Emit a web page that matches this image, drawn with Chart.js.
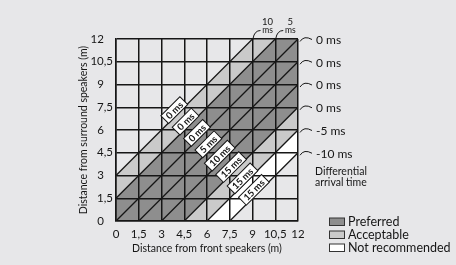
<!DOCTYPE html>
<html><head><meta charset="utf-8">
<script src="https://cdn.jsdelivr.net/npm/chart.js@4/dist/chart.umd.min.js"></script>
<style>html,body{margin:0;padding:0;background:#e7e7e9;}canvas{display:block;}</style>
</head><body>
<canvas id="c" width="456" height="265"></canvas>
<script>
// ---- data ----
const tickValues = [0, 1.5, 3, 4.5, 6, 7.5, 9, 10.5, 12];
const tickLabels = ['0', '1,5', '3', '4,5', '6', '7,5', '9', '10,5', '12'];
const xTitle = 'Distance from front speakers (m)';
const yTitle = 'Distance from surround speakers (m)';
const bandNames = ['Preferred', 'Acceptable', 'Not recommended'];
const bandColors = ['#8e8e8e', '#cacaca', '#ffffff'];
// bands between lines y = x + offset (metres)
const bandLow = [-4.5, 1.5, -6, -7.5];
const bandHigh = [1.5, 3, -4.5, -6];
const bandType = [0, 1, 1, 2];
// diagonal lines y = x + offset
const diagOffsets = [3, 1.5, 0, -1.5, -3, -4.5, -6, -7.5];
const edgeLabels = ['10 ms', '5 ms', '0 ms', '0 ms', '0 ms', '0 ms', '-5 ms', '-10 ms'];
const boxLabels = ['0 ms', '0 ms', '0 ms', '5 ms', '10 ms', '15 ms', '15 ms', '15 ms'];
const boxSum = 11.15;
const noteLines = ['Differential', 'arrival time'];

const INK = '#161616';
const FONT = 'Lato, "Open Sans", sans-serif';

const datasets = [];
diagOffsets.forEach(c => datasets.push({
  data: [{x: 0, y: c}, {x: 12, y: 12 + c}],
  borderColor: INK, borderWidth: 1.3, pointRadius: 0, fill: false, clip: 0
}));
bandLow.forEach((lo, i) => {
  const base = datasets.length;
  datasets.push({data: [{x: 0, y: lo}, {x: 12, y: 12 + lo}], borderColor: 'rgba(0,0,0,0)', borderWidth: 0, pointRadius: 0, fill: false, clip: 0});
  datasets.push({data: [{x: 0, y: bandHigh[i]}, {x: 12, y: 12 + bandHigh[i]}], borderColor: 'rgba(0,0,0,0)', borderWidth: 0, pointRadius: 0,
    fill: {target: base}, backgroundColor: bandColors[bandType[i]], clip: 0});
});

const overlay = {
  id: 'overlay',
  afterDraw(chart) {
    const {ctx, scales: {x, y}, chartArea: a} = chart;
    ctx.save();
    ctx.strokeStyle = INK; ctx.fillStyle = INK;
    // boxed labels along the diagonals
    boxLabels.forEach((t, i) => {
      const c = diagOffsets[i];
      let px = x.getPixelForValue((boxSum - c) / 2);
      let py = y.getPixelForValue((boxSum + c) / 2);
      const off = 5;
      px -= off / Math.SQRT2; py -= off / Math.SQRT2;
      ctx.save();
      ctx.translate(px, py); ctx.rotate(-Math.PI / 4);
      ctx.font = 'bold 9.5px ' + FONT;
      const w = ctx.measureText(t).width + 7, h = 11;
      ctx.fillStyle = '#fff'; ctx.fillRect(-w / 2, -h / 2, w, h);
      ctx.lineWidth = 1; ctx.strokeStyle = INK; ctx.strokeRect(-w / 2, -h / 2, w, h);
      ctx.fillStyle = INK; ctx.textAlign = 'center'; ctx.textBaseline = 'middle';
      ctx.fillText(t, 0, 0.5);
      ctx.restore();
    });
    // edge labels
    ctx.lineWidth = 1;
    diagOffsets.forEach((c, i) => {
      if (c > 0) {
        const px = x.getPixelForValue(12 - c), py = a.top;
        ctx.beginPath(); ctx.moveTo(px + 0.5, py - 0.5);
        ctx.quadraticCurveTo(px + 2, py - 8.5, px + 8, py - 8.5); ctx.stroke();
        const parts = edgeLabels[i].split(' ');
        ctx.textAlign = 'center'; ctx.textBaseline = 'middle';
        ctx.font = '9.5px ' + FONT; ctx.fillText(parts[0], px + 15, py - 17);
        ctx.font = '8.5px ' + FONT; ctx.fillText(parts[1], px + 15, py - 8.5);
      } else {
        const px = a.right, py = y.getPixelForValue(12 + c);
        ctx.beginPath(); ctx.moveTo(px + 2, py + 2.5);
        ctx.quadraticCurveTo(px + 6, py - 4, px + 14, py + 0.5); ctx.stroke();
        ctx.textAlign = 'left'; ctx.textBaseline = 'middle';
        ctx.font = '12px ' + FONT; ctx.fillText(edgeLabels[i], px + 18, py + 1);
      }
    });
    // note
    ctx.font = '10.5px ' + FONT; ctx.textAlign = 'left'; ctx.textBaseline = 'middle';
    noteLines.forEach((t, i) => ctx.fillText(t, a.right + 17, y.getPixelForValue(4.5) + 19 + i * 11));
    // legend
    ctx.font = '12.5px ' + FONT;
    bandNames.forEach((t, i) => {
      const ly = a.bottom + 0.5 + i * 13;
      ctx.fillStyle = bandColors[i]; ctx.fillRect(a.right + 31, ly - 3.5, 16, 8);
      ctx.strokeStyle = '#333'; ctx.lineWidth = 1; ctx.strokeRect(a.right + 31.5, ly - 3.5, 15, 7.5);
      ctx.fillStyle = INK; ctx.fillText(t, a.right + 50, ly + 0.5);
    });
    ctx.restore();
  }
};

const yLabel = v => {
  const s = tickLabels[tickValues.indexOf(v)];
  return s.indexOf(',') < 0 ? s + '\u2008\u2007' : s;
};

new Chart(document.getElementById('c'), {
  type: 'line',
  data: {datasets},
  plugins: [overlay],
  options: {
    responsive: false, animation: false, devicePixelRatio: 1,
    layout: {padding: {left: 0, right: 158, top: 39, bottom: 0}},
    plugins: {legend: {display: false}, tooltip: {enabled: false}},
    scales: {
      x: {
        type: 'linear', min: 0, max: 12,
        afterBuildTicks: s => { s.ticks = tickValues.map(v => ({value: v})); },
        afterFit: s => { s.height = 44; },
        ticks: {callback: v => tickLabels[tickValues.indexOf(v)], font: {family: FONT, size: 11.5}, color: INK, padding: 6, maxRotation: 0, autoSkip: false},
        grid: {color: INK, lineWidth: 1.5, drawTicks: false, z: 1},
        border: {color: INK, width: 1.5, z: 1},
        title: {display: true, text: xTitle, font: {family: FONT, size: 10.5}, color: INK, padding: {top: 0, bottom: 10.5}}
      },
      y: {
        type: 'linear', min: 0, max: 12,
        afterBuildTicks: s => { s.ticks = tickValues.map(v => ({value: v})); },
        afterFit: s => { s.width = 116; },
        ticks: {callback: yLabel, font: {family: FONT, size: 11.5}, color: INK, padding: 3, autoSkip: false},
        grid: {color: INK, lineWidth: 1.5, drawTicks: false, z: 1},
        border: {color: INK, width: 1.5, z: 1},
        title: {display: true, text: yTitle, font: {family: FONT, size: 10.5}, color: INK, padding: {top: 77, bottom: 0}}
      }
    }
  }
});
</script>
</body></html>
